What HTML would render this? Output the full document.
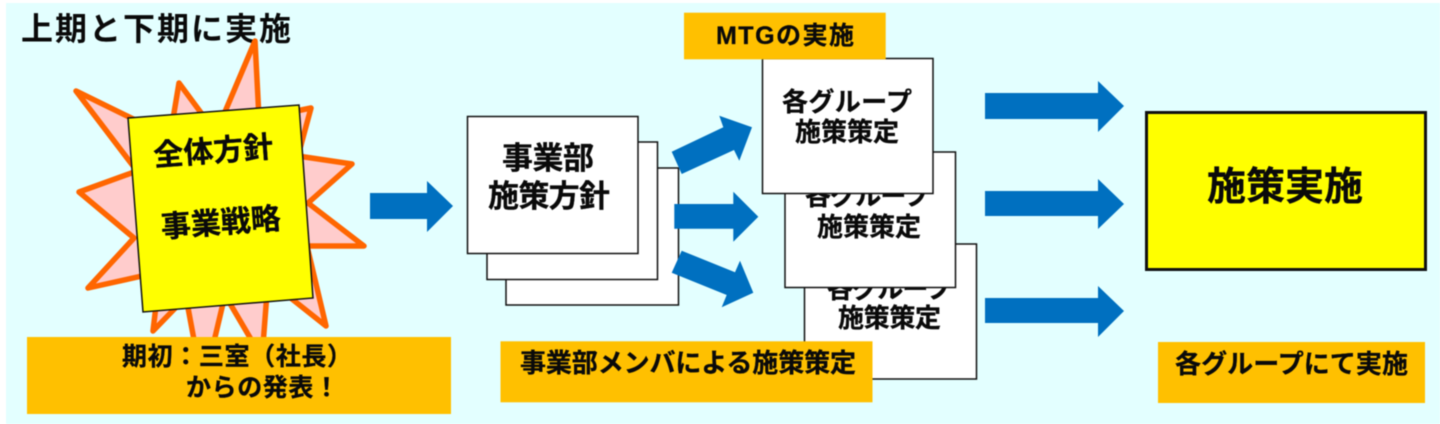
<!DOCTYPE html>
<html lang="ja"><head><meta charset="utf-8"><title>上期と下期に実施</title>
<style>
html,body{margin:0;padding:0;background:#fff;width:1440px;height:424px;overflow:hidden}
svg{display:block;filter:blur(.4px)}
text{font-family:"Liberation Sans","Noto Sans CJK JP",sans-serif;font-weight:700;fill:#0a0a0a;stroke:#0a0a0a;stroke-width:.3px}
</style></head><body>
<svg width="1440" height="424" viewBox="0 0 1440 424" xmlns="http://www.w3.org/2000/svg">
<rect x="6" y="3" width="1434" height="421" fill="#E3FFFF"/>
<text x="21" y="40" font-size="32" textLength="270" lengthAdjust="spacing" style="stroke-width:0">上期と下期に実施</text>

<polygon points="255,41 259,118 262,118 311,108 298,156 352,164 308,203 364,246 307,246 326,326 268,280 262,358 225,295 203,388 186,297 153,331 160,272 88,288 134,238 79,192 137,171 76,91 170,137 179,83 216,133" fill="#FFCCCC" stroke="#FF6600" stroke-width="5.5" stroke-linejoin="round"/>
<polygon points="128,118 299,105 313,298 143,312" fill="#FFFF00" stroke="#111" stroke-width="1.5"/>
<g transform="rotate(-4.3 220 186)">
<text x="216" y="161" font-size="30" text-anchor="middle" textLength="120" lengthAdjust="spacing">全体方針</text>
<text x="218" y="233" font-size="30" text-anchor="middle" textLength="120" lengthAdjust="spacing">事業戦略</text>
</g>
<rect x="27" y="337" width="424" height="77" fill="#FFC000"/>
<text x="122" y="365" font-size="25" textLength="230" lengthAdjust="spacing">期初：三室（社長）</text>
<text x="186" y="396" font-size="25" textLength="153" lengthAdjust="spacing">からの発表！</text>
<polygon points="370,193 427,193 427,181 453,206 427,232 427,219 370,219" fill="#0070C0"/>

<g fill="#fff" stroke="#111" stroke-width="1.5">
<rect x="506" y="168" width="172.5" height="137"/>
<rect x="487" y="142" width="170.5" height="137.5"/>
<rect x="467.5" y="116.5" width="170.5" height="137"/>
</g>
<text x="502" y="169" font-size="31" textLength="92" lengthAdjust="spacing">事業部</text>
<text x="488" y="207" font-size="31" textLength="122" lengthAdjust="spacing">施策方針</text>

<rect x="804.5" y="244" width="172" height="135" fill="#fff" stroke="#111" stroke-width="1.5"/>
<text x="827" y="298" font-size="26" textLength="125" lengthAdjust="spacing">各グループ</text>
<text x="838" y="327" font-size="26" textLength="103" lengthAdjust="spacing">施策策定</text>
<rect x="785" y="152" width="170.5" height="135.5" fill="#fff" stroke="#111" stroke-width="1.5"/>
<text x="805" y="205" font-size="26" textLength="125" lengthAdjust="spacing">各グループ</text>
<text x="817" y="236" font-size="26" textLength="104" lengthAdjust="spacing">施策策定</text>
<rect x="762.5" y="58.5" width="170.5" height="135" fill="#fff" stroke="#111" stroke-width="1.5"/>
<text x="782" y="111" font-size="26" textLength="130" lengthAdjust="spacing">各グループ</text>
<text x="795" y="141" font-size="26" textLength="104" lengthAdjust="spacing">施策策定</text>

<polygon points="671.7,151.7 723.3,127.3 719.3,115.7 752,127.3 739.3,160.7 734,150 681.7,174" fill="#0070C0"/>
<polygon points="674.3,204 733.3,204 733.3,191.7 758.3,216.7 733.3,241.7 733.3,228.7 674.3,228.7" fill="#0070C0"/>
<polygon points="681.7,250.7 735,272.3 740,260.7 753.3,292.7 721.7,307.3 726.7,295 671.7,272.7" fill="#0070C0"/>

<rect x="684" y="12.7" width="201.7" height="46.6" fill="#FFC000"/>
<text x="716" y="44" font-size="25" textLength="138" lengthAdjust="spacing">MTGの実施</text>
<rect x="500.5" y="341.3" width="372" height="61" fill="#FFC000"/>
<text x="520" y="372" font-size="26" textLength="336" lengthAdjust="spacing">事業部メンバによる施策策定</text>

<polygon points="985,93 1098,93 1098,81 1124,106 1098,132 1098,119 985,119" fill="#0070C0"/>
<polygon points="985,191 1098,191 1098,179 1124,204 1098,229 1098,216 985,216" fill="#0070C0"/>
<polygon points="985,298 1098,298 1098,286 1124,311 1098,337 1098,323 985,323" fill="#0070C0"/>

<rect x="1146.5" y="112.5" width="279" height="157" fill="#FFFF00" stroke="#111" stroke-width="3"/>
<text x="1207" y="200" font-size="39" textLength="156" lengthAdjust="spacing">施策実施</text>
<rect x="1158" y="342" width="267" height="61" fill="#FFC000"/>
<text x="1175" y="373" font-size="26" textLength="233" lengthAdjust="spacing">各グループにて実施</text>
</svg>
</body></html>
